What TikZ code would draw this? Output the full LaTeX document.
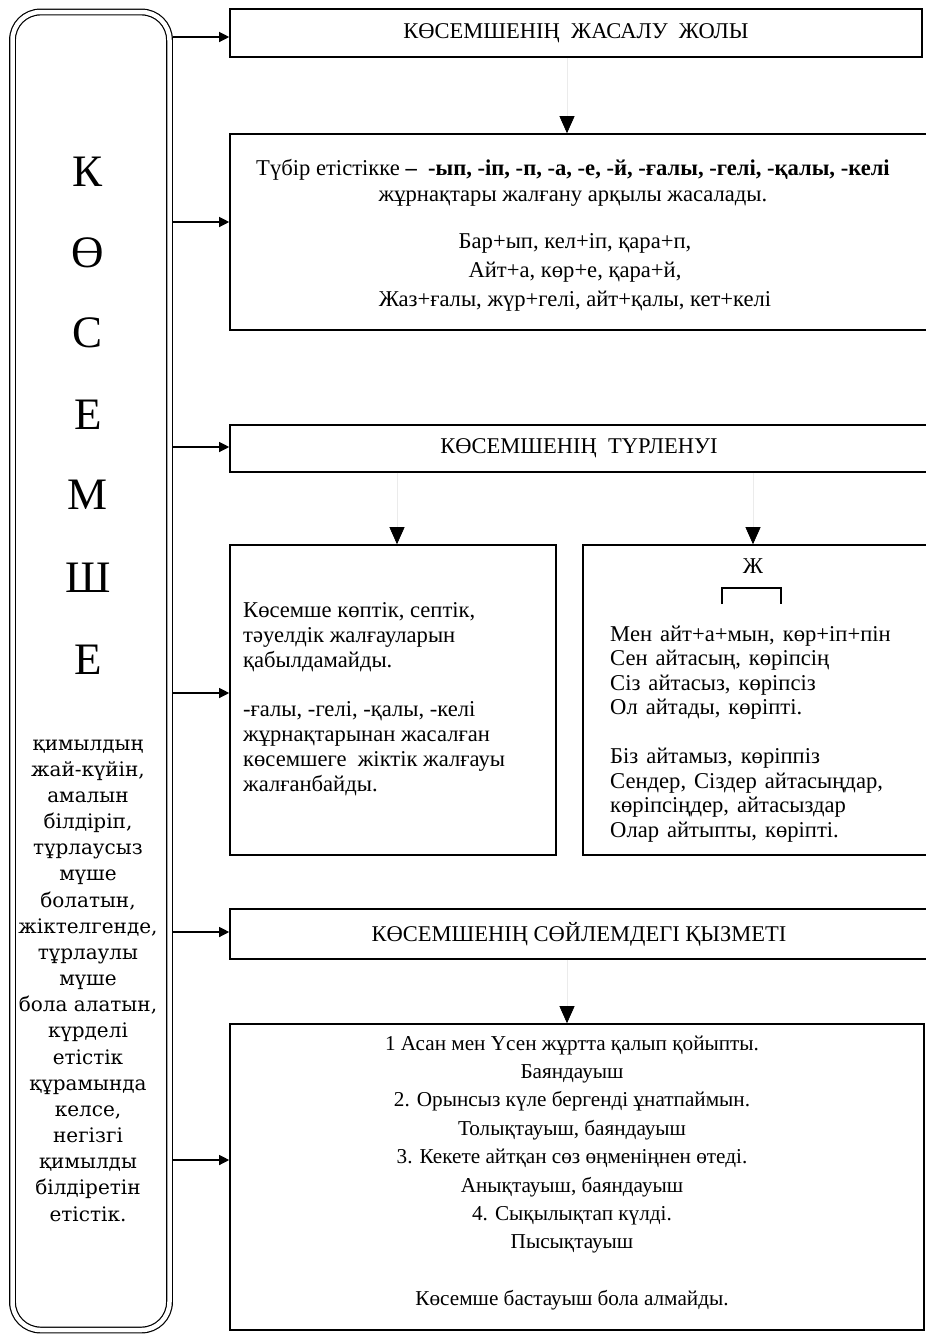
\documentclass[tikz,border=0pt]{standalone}
\usepackage{fontspec}
\setmainfont{Liberation Serif}
\newfontfamily\descfont{DejaVu Serif}
\usetikzlibrary{arrows.meta}
\newcommand\widespaces{\spaceskip=8pt plus 2pt\relax}
\begin{document}
\begin{tikzpicture}[x=1pt,y=-1pt,
  box/.style={draw, line width=1.6pt, inner sep=0pt},
  body/.style={inner sep=0pt, font=\fontsize{22.6}{24.8}\selectfont},
  head/.style={box, font=\fontsize{22.5}{24}\selectfont},
  arr/.style={-{Triangle[length=10pt,width=10pt]}, line width=1.2pt},
  tri/.style={-{Triangle[length=17pt,width=15pt,color=black]}, draw=black!8, line width=0.6pt},
  big/.style={inner sep=0pt, font=\fontsize{45}{45}\selectfont}]
\useasboundingbox (0,0) rectangle (926,1334);
\fill[white] (0,0) rectangle (926,1334);
% left double rounded box
\node[draw, double, double distance=4.5pt, line width=1.2pt, rounded corners=28pt,
      minimum width=157pt, minimum height=1318pt, outer sep=3.5pt] (left) at (91,671) {};
\node[big] (l1) at (88,172) {К};
\node[big] (l2) at (88,253) {Ө};
\node[big] (l3) at (88,333) {С};
\node[big] (l4) at (88,415) {Е};
\node[big] (l5) at (88,495) {М};
\node[big] (l6) at (88,578) {Ш};
\node[big] (l7) at (88,660) {Е};
\node[inner sep=0pt, align=center, font=\descfont\fontsize{20}{26.17}\selectfont] (desc) at (88,980.5)
 {қимылдың\\жай-күйін,\\амалын\\білдіріп,\\тұрлаусыз\\мүше\\болатын,\\жіктелгенде,\\тұрлаулы\\мүше\\бола алатын,\\күрделі\\етістік\\құрамында\\келсе,\\негізгі\\қимылды\\білдіретін\\етістік.};
% boxes
\node[head, minimum width=692pt, minimum height=48pt] (b1) at (576,33) {КӨСЕМШЕНІҢ\ \ ЖАСАЛУ\ \ ЖОЛЫ};
\node[box, minimum width=698pt, minimum height=196pt] (b2) at (579,232) {};
\node[head, minimum width=698pt, minimum height=47pt] (b3) at (579,448.5) {КӨСЕМШЕНІҢ\ \ ТҮРЛЕНУІ};
\node[box, minimum width=326pt, minimum height=310pt] (b4) at (393,700) {};
\node[box, minimum width=345pt, minimum height=310pt] (b5) at (755.5,700) {};
\node[head, minimum width=698pt, minimum height=50pt] (b6) at (579,934) {КӨСЕМШЕНІҢ СӨЙЛЕМДЕГІ ҚЫЗМЕТІ};
\node[box, minimum width=694pt, minimum height=306pt] (b7) at (577,1177) {};
% box 2 text
\node[body, align=center, font=\fontsize{22.6}{26}\selectfont] (t2a) at (573,183)
 {Түбір етістікке \textbf{– \ -ып, -іп, -п, -а, -е, -й, -ғалы, -гелі, -қалы, -келі}\\жұрнақтары жалғану арқылы жасалады.};
\node[body, align=center, font=\fontsize{22.6}{29}\selectfont] (t2b) at (575,272)
 {Бар+ып, кел+іп, қара+п,\\Айт+а, көр+е, қара+й,\\Жаз+ғалы, жүр+гелі, айт+қалы, кет+келі};
% box 4 text
\node[body, align=left, anchor=west] (t4) at (243,699)
 {Көсемше көптік, септік,\\тәуелдік жалғауларын\\қабылдамайды.\\[24.8pt]-ғалы, -гелі, -қалы, -келі\\жұрнақтарынан жасалған\\көсемшеге\ \ жіктік жалғауы\\жалғанбайды.};
% box 5 text
\node[body] (zh) at (753,566) {Ж};
\draw[line width=1.4pt] (722,604) |- (781,588) -- (781,604);
\node[body, align=left, anchor=west, font=\fontsize{22.6}{24.5}\selectfont\widespaces] (t5) at (610,734)
 {Мен айт+а+мын, көр+іп+пін\\Сен айтасың, көріпсің\\Сіз айтасыз, көріпсіз\\Ол айтады, көріпті.\\[24.5pt]Біз айтамыз, көріппіз\\Сендер, Сіздер айтасыңдар,\\көріпсіңдер, айтасыздар\\Олар айтыпты, көріпті.};
% box 7 text
\node[body, align=center, font=\fontsize{21.2}{28.4}\selectfont] (t7) at (572,1173)
 {1 Асан мен Үсен жұртта қалып қойыпты.\\Баяндауыш\\2. Орынсыз күле бергенді ұнатпаймын.\\Толықтауыш, баяндауыш\\3. Кекете айтқан сөз өңменіңнен өтеді.\\Анықтауыш, баяндауыш\\4. Сықылықтап күлді.\\Пысықтауыш\\[28.4pt]Көсемше бастауыш бола алмайды.};
% connectors from left box
\draw[arr] ([yshift=-4pt]b1.west -| left.east) -- ([yshift=-4pt]b1.west);
\draw[arr] ([yshift=10pt]b2.west -| left.east) -- ([yshift=10pt]b2.west);
\draw[arr] ([yshift=1.5pt]b3.west -| left.east) -- ([yshift=1.5pt]b3.west);
\draw[arr] ([yshift=7pt]b4.west -| left.east) -- ([yshift=7pt]b4.west);
\draw[arr] ([yshift=2pt]b6.west -| left.east) -- ([yshift=2pt]b6.west);
\draw[arr] ([yshift=17pt]b7.west -| left.east) -- ([yshift=17pt]b7.west);
% downward connectors
\draw[tri] ([xshift=-12pt]b2.north |- b1.south) -- ([xshift=-12pt]b2.north);
\draw[tri] ([xshift=4pt]b4.north |- b3.south) -- ([xshift=4pt]b4.north);
\draw[tri] ([xshift=-2.5pt]b5.north |- b3.south) -- ([xshift=-2.5pt]b5.north);
\draw[tri] ([xshift=-10pt]b7.north |- b6.south) -- ([xshift=-10pt]b7.north);
\end{tikzpicture}
\end{document}
